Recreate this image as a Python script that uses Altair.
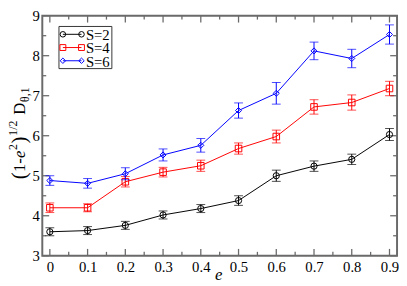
import altair as alt
import pandas as pd

# ---- data ----
e_vals = [0.0, 0.1, 0.2, 0.3, 0.4, 0.5, 0.6, 0.7, 0.8, 0.9]
s2_vals = [3.60, 3.63, 3.76, 4.02, 4.18, 4.38, 5.00, 5.24, 5.41, 6.03]
s2_err = [0.10, 0.10, 0.10, 0.10, 0.10, 0.12, 0.14, 0.13, 0.13, 0.15]
s4_vals = [4.20, 4.20, 4.85, 5.09, 5.25, 5.68, 5.98, 6.72, 6.83, 7.18]
s4_err = [0.12, 0.10, 0.13, 0.12, 0.14, 0.14, 0.16, 0.18, 0.19, 0.18]
s6_vals = [4.88, 4.81, 5.05, 5.52, 5.76, 6.63, 7.06, 8.12, 7.93, 8.53]
s6_err = [0.12, 0.12, 0.15, 0.15, 0.17, 0.19, 0.27, 0.22, 0.23, 0.24]

series_names = ["S=2", "S=4", "S=6"]
series_vals = [s2_vals, s4_vals, s6_vals]
series_errs = [s2_err, s4_err, s6_err]
colors = ["#000000", "#ff0000", "#0000ff"]
shapes = ["circle", "square", "diamond"]
msizes = [40, 45, 38]

x_major = [0.0, 0.1, 0.2, 0.3, 0.4, 0.5, 0.6, 0.7, 0.8, 0.9]
x_minor = [0.05, 0.15, 0.25, 0.35, 0.45, 0.55, 0.65, 0.75, 0.85]
y_major = [3, 4, 5, 6, 7, 8, 9]
y_minor = [3.5, 4.5, 5.5, 6.5, 7.5, 8.5]

FONT = "Liberation Serif, Times New Roman, DejaVu Serif, serif"
W, H = 362, 245
TOP = 13  # page y of plot top
LEFT = 43  # page x of plot left
FRAME = "#6a6a6a"

xscale = alt.Scale(domain=[-0.02, 0.92], nice=False, zero=False)
yscale = alt.Scale(domain=[3, 9], nice=False, zero=False)
xaxis = alt.Axis(values=x_major, format="~g", ticks=False, tickSize=0, domain=False,
                 grid=False, labelFont=FONT, labelFontSize=15, labelColor="black",
                 labelPadding=4, title=None)
yaxis = alt.Axis(values=y_major, format="d", ticks=False, tickSize=0, domain=False,
                 grid=False, labelFont=FONT, labelFontSize=15, labelColor="black",
                 labelPadding=3, title=None)

layers = []

# ---- inward ticks ----
def xticks(vals, length):
    d = alt.Chart(pd.DataFrame({"t": vals}))
    bot = d.mark_rule(color=FRAME, strokeWidth=1.3).encode(
        x=alt.X("t:Q", scale=xscale, axis=xaxis), y=alt.value(H), y2=alt.value(H - length))
    top = d.mark_rule(color=FRAME, strokeWidth=1.3).encode(
        x=alt.X("t:Q", scale=xscale, axis=xaxis), y=alt.value(0), y2=alt.value(length))
    return [bot, top]

def yticks(vals, length):
    d = alt.Chart(pd.DataFrame({"t": vals}))
    left = d.mark_rule(color=FRAME, strokeWidth=1.3).encode(
        y=alt.Y("t:Q", scale=yscale, axis=yaxis), x=alt.value(0), x2=alt.value(length))
    right = d.mark_rule(color=FRAME, strokeWidth=1.3).encode(
        y=alt.Y("t:Q", scale=yscale, axis=yaxis), x=alt.value(W), x2=alt.value(W - length))
    return [left, right]

layers += xticks(x_major, 7) + xticks(x_minor, 4) + yticks(y_major, 7) + yticks(y_minor, 4)

# ---- series ----
for name, vals, errs, col, shp, ms in zip(series_names, series_vals, series_errs, colors, shapes, msizes):
    df = pd.DataFrame({
        "e": e_vals,
        "v": vals,
        "lo": [v - er for v, er in zip(vals, errs)],
        "hi": [v + er for v, er in zip(vals, errs)],
    })
    base = alt.Chart(df)
    X = alt.X("e:Q", scale=xscale, axis=xaxis)
    layers.append(base.mark_line(color=col, strokeWidth=1).encode(
        x=X, y=alt.Y("v:Q", scale=yscale, axis=yaxis)))
    layers.append(base.mark_rule(color=col, strokeWidth=1).encode(
        x=X, y=alt.Y("lo:Q", scale=yscale, axis=yaxis), y2="hi:Q"))
    for f in ["lo", "hi"]:
        layers.append(base.mark_tick(color=col, orient="horizontal", size=9, thickness=1).encode(
            x=X, y=alt.Y(f"{f}:Q", scale=yscale, axis=yaxis)))
    layers.append(base.mark_point(shape=shp, color=col, filled=False, size=ms,
                                  strokeWidth=1, opacity=1).encode(
        x=X, y=alt.Y("v:Q", scale=yscale, axis=yaxis)))

dummy = alt.Chart(pd.DataFrame({"a": [0]}))

# ---- legend (page coords converted to plot coords) ----
layers.append(dummy.mark_rect(fill="white", stroke="#333333", strokeWidth=1).encode(
    x=alt.value(60 - LEFT), x2=alt.value(114 - LEFT),
    y=alt.value(24 - TOP), y2=alt.value(67 - TOP)))
for i, (name, col, shp, ms) in enumerate(zip(series_names, colors, shapes, msizes)):
    ry = 32 - TOP + 13.5 * i
    layers.append(dummy.mark_rule(color=col, strokeWidth=1).encode(
        x=alt.value(64 - LEFT), x2=alt.value(83 - LEFT), y=alt.value(ry)))
    for px in [64, 83]:
        layers.append(dummy.mark_point(shape=shp, color=col, filled=False, size=ms * 0.8,
                                       strokeWidth=1, opacity=1).encode(
            x=alt.value(px - LEFT), y=alt.value(ry)))
    layers.append(dummy.mark_text(text=name, font=FONT, fontSize=15, align="left",
                                  baseline="middle", color="black").encode(
        x=alt.value(87.5 - LEFT), y=alt.value(ry + 1)))

# ---- x title ----
layers.append(dummy.mark_text(text="e", font=FONT, fontSize=17, fontStyle="italic",
                              align="center", baseline="alphabetic", color="black").encode(
    x=alt.value(223 - LEFT), y=alt.value(283 - TOP)))

# ---- y title pieces (rotated): (text, size, italic, baseline x page, start y page) ----
pieces = [
    ("(", 21, False, 26, 180),
    ("1-", 17, False, 25, 172.5),
    ("e", 17, True, 25, 158.3),
    ("2", 12, False, 17.5, 150),
    (")", 21, False, 26, 143.5),
    ("1/2", 12, False, 17.5, 135.5),
    ("D", 17, False, 25, 114),
    ("\u03b8,1", 12, False, 29.5, 101),
]
for txt, fs, it, bx, sy in pieces:
    kw = dict(fontStyle="italic") if it else {}
    layers.append(dummy.mark_text(text=txt, font=FONT, fontSize=fs, angle=270, align="left",
                                  baseline="alphabetic", color="black", **kw).encode(
        x=alt.value(bx - LEFT), y=alt.value(sy - TOP)))

chart = alt.layer(*layers).properties(
    width=W, height=H,
    autosize=alt.AutoSizeParams(type="none"),
    padding={"left": LEFT - 8, "top": TOP - 8, "right": 2, "bottom": 286 - 8 - (TOP - 8) - H},
).configure_view(stroke=FRAME, strokeWidth=2)

chart.save("out.html", embed_options={"renderer": "svg", "actions": False})
